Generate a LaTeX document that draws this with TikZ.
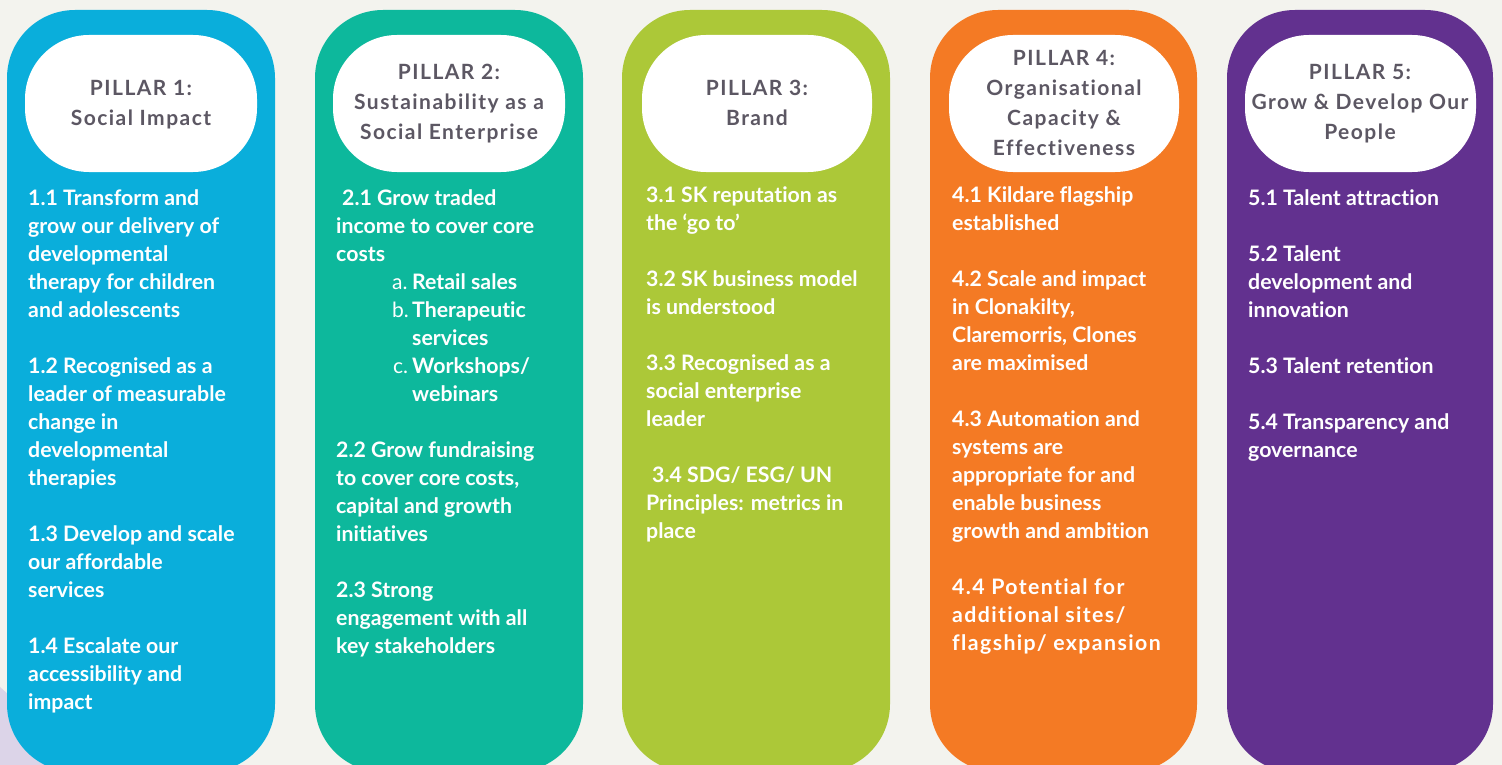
\documentclass[tikz,border=0pt]{standalone}
\usepackage{fontspec}
\setmainfont{Lato}[Ligatures=NoCommon]
\definecolor{bgc}{RGB}{243,243,238}
\definecolor{lav}{RGB}{220,212,232}
\definecolor{pblue}{RGB}{10,174,219}
\definecolor{pteal}{RGB}{13,184,156}
\definecolor{pgreen}{RGB}{172,200,56}
\definecolor{porange}{RGB}{244,122,36}
\definecolor{ppurple}{RGB}{98,49,143}
\definecolor{hgrey}{RGB}{92,87,99}
\newcommand\bodyf{\fontsize{21.3}{24}\selectfont\bfseries}
\newcommand\headf{\fontsize{21}{24}\selectfont\bfseries\addfontfeature{LetterSpace=7}}
\newcounter{lnum}
\newcommand\BL[3]{\stepcounter{lnum}\node[body] (b\thelnum) at (#1,#2) {#3};}
\newcommand\WL[3]{\stepcounter{lnum}\node[body,font=\bodyf\addfontfeature{LetterSpace=6.5}] (w\thelnum) at (#1,#2) {#3};}
\newcommand\HL[3]{\stepcounter{lnum}\node[head] (h\thelnum) at (#1,#2) {#3};}
\newcommand\LI[4]{\stepcounter{lnum}\node[body,font=\fontsize{21}{24}\selectfont] (m\thelnum) at (#1,#3) {#4};}
\begin{document}
\begin{tikzpicture}[x=1pt,y=-1pt,
  body/.style={anchor=base west, inner sep=0pt, text=white, font=\bodyf},
  head/.style={anchor=base, inner sep=0pt, text=hgrey, font=\headf},
  pillar/.style={rounded corners=68pt},
  capsule/.style={fill=white, rounded corners=64pt}]
\useasboundingbox (0,0) rectangle (1502,765);
\fill[bgc] (0,0) rectangle (1502,765);
\fill[lav] (-93.5,796.5) circle (144pt);
% pillars
\fill[pillar, pblue] (7,10) rectangle (275,772);
\fill[pillar, pteal] (315,10) rectangle (583,772);
\fill[pillar, pgreen] (622,10) rectangle (890,772);
\fill[pillar, porange] (930,10) rectangle (1197,772);
\fill[pillar, ppurple] (1227,10) rectangle (1493,772);
% header capsules
\fill[capsule] (25,35) rectangle (257,172);
\fill[capsule] (333,35) rectangle (565,172);
\fill[capsule] (642,35) rectangle (872,172);
\fill[capsule] (949,35) rectangle (1179,172);
\fill[capsule] (1245,35) rectangle (1476,172);
% headers
\HL{141}{96}{PILLAR 1:}
\HL{141}{126}{Social Impact}
\HL{449}{80}{PILLAR 2:}
\HL{449}{110}{Sustainability as a}
\HL{449}{140}{Social Enterprise}
\HL{757}{96}{PILLAR 3:}
\HL{757}{126}{Brand}
\HL{1064}{66}{PILLAR 4:}
\HL{1064}{96}{Organisational}
\HL{1064}{126}{Capacity \&}
\HL{1064}{156}{Effectiveness}
\HL{1360}{80}{PILLAR 5:}
\HL{1360}{110}{Grow \& Develop Our}
\HL{1360}{140}{People}
% pillar 1
\BL{28}{205}{1.1 Transform and}
\BL{28}{233}{grow our delivery of}
\BL{28}{261}{developmental}
\BL{28}{289}{therapy for children}
\BL{28}{317}{and adolescents}
\BL{28}{373}{1.2 Recognised as a}
\BL{28}{401}{leader of measurable}
\BL{28}{429}{change in}
\BL{28}{457}{developmental}
\BL{28}{485}{therapies}
\BL{28}{541}{1.3 Develop and scale}
\BL{28}{569}{our affordable}
\BL{28}{597}{services}
\BL{28}{653}{1.4 Escalate our}
\BL{28}{681}{accessibility and}
\BL{28}{709}{impact}
% pillar 2
\BL{342}{205}{2.1 Grow traded}
\BL{336}{233}{income to cover core}
\BL{336}{261}{costs}
\LI{392}{}{289}{a.}
\BL{412}{289}{Retail sales}
\LI{392}{}{317}{b.}
\BL{412}{317}{Therapeutic}
\BL{412}{345}{services}
\LI{393}{}{373}{c.}
\BL{412}{373}{Workshops/}
\BL{412}{401}{webinars}
\BL{336}{457}{2.2 Grow fundraising}
\BL{336}{485}{to cover core costs,}
\BL{336}{513}{capital and growth}
\BL{336}{541}{initiatives}
\BL{336}{597}{2.3 Strong}
\BL{336}{625}{engagement with all}
\BL{336}{653}{key stakeholders}
% pillar 3
\BL{646}{202}{3.1 SK reputation as}
\BL{646}{230}{the ‘go to’}
\BL{646}{286}{3.2 SK business model}
\BL{646}{314}{is understood}
\BL{646}{370}{3.3 Recognised as a}
\BL{646}{398}{social enterprise}
\BL{646}{426}{leader}
\BL{652}{482}{3.4 SDG/ ESG/ UN}
\BL{646}{510}{Principles: metrics in}
\BL{646}{538}{place}
% pillar 4
\BL{952}{202}{4.1 Kildare flagship}
\BL{952}{230}{established}
\BL{952}{286}{4.2 Scale and impact}
\BL{952}{314}{in Clonakilty,}
\BL{952}{342}{Claremorris, Clones}
\BL{952}{370}{are maximised}
\BL{952}{426}{4.3 Automation and}
\BL{952}{454}{systems are}
\BL{952}{482}{appropriate for and}
\BL{952}{510}{enable business}
\BL{952}{538}{growth and ambition}
\WL{952}{594}{4.4 Potential for}
\WL{952}{622}{additional sites/}
\WL{952}{650}{flagship/ expansion}
% pillar 5
\BL{1248}{205}{5.1 Talent attraction}
\BL{1248}{261}{5.2 Talent}
\BL{1248}{289}{development and}
\BL{1248}{317}{innovation}
\BL{1248}{373}{5.3 Talent retention}
\BL{1248}{429}{5.4 Transparency and}
\BL{1248}{457}{governance}
\end{tikzpicture}
\end{document}
